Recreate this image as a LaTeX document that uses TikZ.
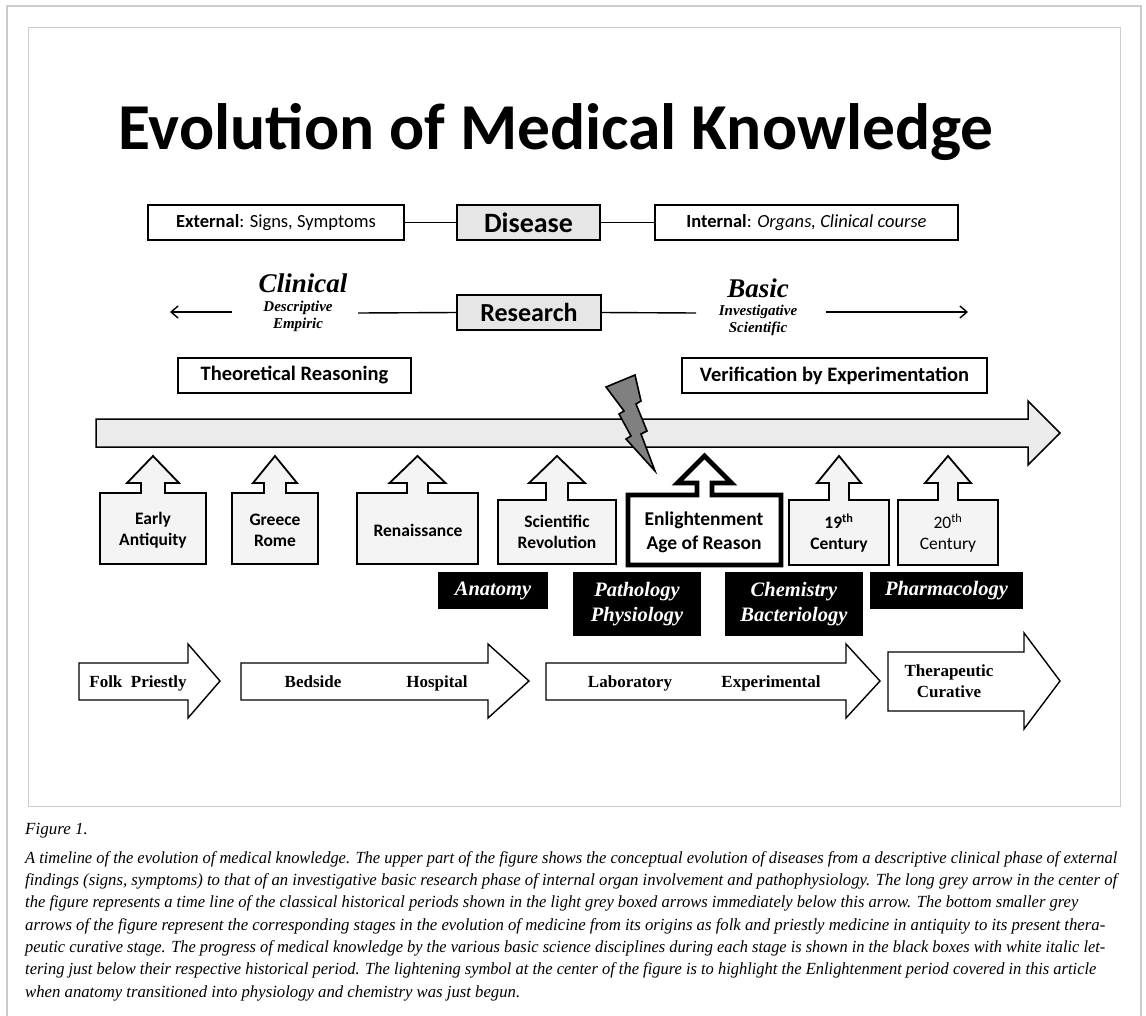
\documentclass[tikz,border=0pt]{standalone}
\usepackage{fontspec}
\usepackage{graphicx}
\setmainfont{Carlito}
\newfontfamily\tnr{Liberation Serif}
\usetikzlibrary{arrows.meta}
\definecolor{framegrey}{HTML}{CCCCCC}
\definecolor{boxgrey}{HTML}{E6E6E6}
\definecolor{bargrey}{HTML}{EBEBEB}
\definecolor{perfill}{HTML}{F4F4F4}
\definecolor{boltgrey}{HTML}{808080}
\newcommand\capfont{\tnr\itshape\fontsize{17}{19}\selectfont}
\newcommand\capline[4]{%
  \node[anchor=base west, inner sep=0] (#1) at (25,#2) {\capfont\resizebox{#3pt}{\height}{#4}};}
\newcommand\periodshape[7]{%
  \pgfmathsetmacro\pcx{(#1+#2)/2}%
  \draw[#7] (#1,#3) -- ({\pcx-#6},#3) -- ({\pcx-#6},483) -- ({\pcx-#5},483) -- (\pcx,456)
    -- ({\pcx+#5},483) -- ({\pcx+#6},483) -- ({\pcx+#6},#3) -- (#2,#3) -- (#2,#4) -- (#1,#4) -- cycle;}
\newcommand\stagearrow[7]{%
  \draw[stage] (#1,#4) -- (#2,#4) -- (#2,#6) -- (#3,{(#6+#7)/2}) -- (#2,#7) -- (#2,#5) -- (#1,#5) -- cycle;}
\begin{document}
\begin{tikzpicture}[x=1pt,y=-1pt,
  box/.style={draw, line width=1.6pt, fill=white, inner sep=0, minimum height=35pt},
  greybox/.style={box, fill=boxgrey},
  conn/.style={line width=1.4pt},
  blk/.style={fill=black, text=white, inner sep=0, align=center,
     font=\tnr\bfseries\itshape\fontsize{20.5}{25}\selectfont},
  per/.style={draw, line width=1.8pt, fill=perfill, line join=miter},
  ptext/.style={align=center, inner sep=0, font=\bfseries\fontsize{17.5}{21}\selectfont},
  stage/.style={draw, line width=1.4pt, fill=white, line join=miter},
  stext/.style={inner sep=0, anchor=base, align=center, font=\tnr\bfseries\fontsize{17}{21}\selectfont},
  sub/.style={inner sep=0, align=center, font=\tnr\bfseries\itshape\fontsize{15}{17}\selectfont},
  bigit/.style={inner sep=0, font=\tnr\bfseries\itshape\fontsize{27}{30}\selectfont}]
\useasboundingbox (0,0) rectangle (1146,1015);
\fill[white] (0,0) rectangle (1146,1015);
% frames
\draw[framegrey, line width=2pt] (7,1016) -- (7,6) -- (1141,6) -- (1141,1016);
\draw[framegrey, line width=1pt] (28,27) rectangle (1120,806);
% title
\node[anchor=base, inner sep=0, font=\bfseries\fontsize{65.5}{70}\selectfont] (title) at (556,149) {Evolution of Medical Knowledge};
% row 1
\node[box, minimum width=256pt, font=\fontsize{18.5}{20}\selectfont] (ext) at (276,222.5) {\textbf{External}: Signs, Symptoms};
\node[greybox, minimum width=143pt, font=\bfseries\fontsize{28}{30}\selectfont] (disease) at (528.5,222.5) {Disease};
\node[box, minimum width=303pt, font=\fontsize{18.5}{20}\selectfont] (int) at (806.5,222.5) {\textbf{Internal}: \textit{Organs, Clinical course}};
\draw[conn] (ext.east) -- (disease.west);
\draw[conn] (disease.east) -- (int.west);
% row 2
\node[greybox, minimum width=144pt, font=\bfseries\fontsize{26}{28}\selectfont] (research) at (529,312.5) {Research};
\node[bigit] (clinical) at (303,283) {Clinical};
\node[sub] (clinsub) at (298,316) {Descriptive\\Empiric};
\node[bigit] (basic) at (758,288) {Basic};
\node[sub] (basicsub) at (758,320.5) {Investigative\\Scientific};
\coordinate (cl1) at (232,312);
\coordinate (cl0) at (170,312);
\coordinate (cl2) at (358,313);
\coordinate (ba1) at (696,313);
\coordinate (ba2) at (826,312);
\coordinate (ba3) at (968,312);
\draw[conn, -{Straight Barb[length=7pt,width=12pt]}] (cl1) -- (cl0);
\draw[conn] (cl2) -- (research.west);
\draw[conn] (research.east) -- (ba1);
\draw[conn, -{Straight Barb[length=7pt,width=12pt]}] (ba2) -- (ba3);
% row 3
\node[box, minimum width=233pt, font=\bfseries\fontsize{20.5}{22}\selectfont] (theo) at (294.5,375.5) {Theoretical Reasoning};
\node[box, minimum width=305pt, font=\bfseries\fontsize{20.5}{22}\selectfont] (verif) at (834.5,375.5) {Verification by Experimentation};
% main timeline arrow
\draw[line width=1.5pt, fill=bargrey, line join=miter] (96,419) -- (1028,419) -- (1028,401) -- (1060,433) -- (1028,465) -- (1028,447) -- (96,447) -- cycle;
% lightning
\draw[line width=1.6pt, fill=boltgrey, line join=miter] (606,387) -- (635,375) -- (641,401) -- (636,404) -- (647,431) -- (641,434) -- (655,471) -- (626,439) -- (631,436) -- (619,414) -- (624,411) -- cycle;
% periods
\periodshape{100}{206}{493}{564}{26}{12}{per}
\periodshape{232}{318}{493}{564}{22}{11}{per}
\periodshape{357}{478}{493}{564}{28}{10.5}{per}
\periodshape{498}{616}{500}{564}{28}{11}{per}
\periodshape{628}{781}{495}{565}{27}{7.5}{per, fill=white, line width=4.8pt}
\periodshape{789}{889}{500}{565}{22}{10}{per}
\periodshape{898}{998}{500}{565}{23}{10}{per}
\node[ptext] (early) at (153,530) {Early\\Antiquity};
\node[ptext] (greece) at (275,530) {Greece\\Rome};
\node[ptext] (renais) at (418,530) {Renaissance};
\node[ptext] (scirev) at (557,532) {Scientific\\Revolution};
\node[ptext, font=\bfseries\fontsize{19.5}{24}\selectfont] (enlight) at (704,532) {Enlightenment\\Age of Reason};
\node[ptext] (c19) at (839,533) {19\textsuperscript{th}\\Century};
\node[ptext, font=\fontsize{17.5}{21}\selectfont] (c20) at (948,533) {20\textsuperscript{th}\\Century};
% black boxes
\node[blk, minimum width=110pt, minimum height=37pt] (anat) at (493,590.5) {Anatomy};
\node[blk, minimum width=128pt, minimum height=64pt] (patho) at (637,604) {Pathology\\Physiology};
\node[blk, minimum width=138pt, minimum height=64pt] (chem) at (794,604) {Chemistry\\Bacteriology};
\node[blk, minimum width=153pt, minimum height=37pt] (pharm) at (946.5,590.5) {Pharmacology};
% stage arrows
\stagearrow{79}{188}{220}{663}{700}{644}{718}
\stagearrow{241}{488}{529}{663}{700}{644}{718}
\stagearrow{546}{846}{880}{663}{700}{644}{718}
\stagearrow{888}{1024}{1060}{652}{711}{633}{729}
\node[stext] (folk) at (138,687) {Folk\ \ Priestly};
\node[stext] (bedside) at (313,687) {Bedside};
\node[stext] (hospital) at (437,687) {Hospital};
\node[stext] (lab) at (630,687) {Laboratory};
\node[stext] (exper) at (771,687) {Experimental};
\node[stext, anchor=center] (thera) at (949,681.5) {Therapeutic\\Curative};
% caption
\node[anchor=base west, inner sep=0, font=\tnr\itshape\fontsize{17}{19}\selectfont] (figlabel) at (25,834) {Figure 1.};
\capline{cap1}{863}{1092}{A timeline of the evolution of medical knowledge. The upper part of the figure shows the conceptual evolution of diseases from a descriptive clinical phase of external}
\capline{cap2}{885}{1092}{findings (signs, symptoms) to that of an investigative basic research phase of internal organ involvement and pathophysiology. The long grey arrow in the center of}
\capline{cap3}{907.5}{1053}{the figure represents a time line of the classical historical periods shown in the light grey boxed arrows immediately below this arrow. The bottom smaller grey}
\capline{cap4}{930}{1080}{arrows of the figure represent the corresponding stages in the evolution of medicine from its origins as folk and priestly medicine in antiquity to its present thera-}
\capline{cap5}{952}{1080}{peutic curative stage. The progress of medical knowledge by the various basic science disciplines during each stage is shown in the black boxes with white italic let-}
\capline{cap6}{974.5}{1071}{tering just below their respective historical period. The lightening symbol at the center of the figure is to highlight the Enlightenment period covered in this article}
\capline{cap7}{997}{495}{when anatomy transitioned into physiology and chemistry was just begun.}
\end{tikzpicture}
\end{document}
